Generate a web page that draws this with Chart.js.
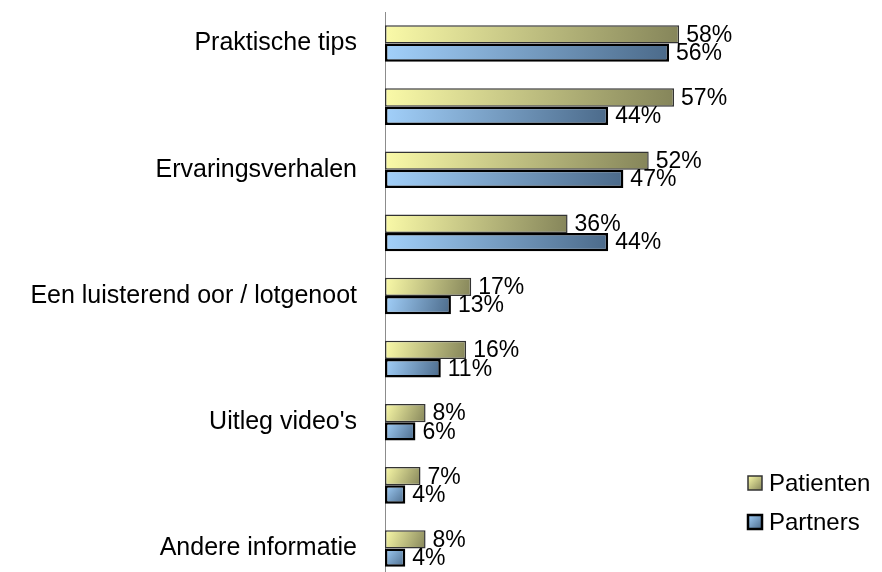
<!DOCTYPE html>
<html lang="nl">
<head>
    <meta charset="UTF-8">
    <title>Informatiebehoefte</title>
    <script src="https://cdn.jsdelivr.net/npm/chart.js"></script>
    <style>
        body {
            margin: 0;
            padding: 0;
            background: #fff;
            overflow: hidden;
        }
        #wrap {
            width: 882px;
            height: 590px;
            position: relative;
        }
    </style>
</head>
<body>
    <div id="wrap">
        <canvas id="barChart"></canvas>
    </div>

    <script>
        const categories = [
            'Praktische tips',
            '',
            'Ervaringsverhalen',
            '',
            'Een luisterend oor / lotgenoot',
            '',
            "Uitleg video's",
            '',
            'Andere informatie'
        ];
        const seriesNames = ['Patienten', 'Partners'];
        const patienten = [58, 57, 52, 36, 17, 16, 8, 7, 8];
        const partners = [56, 44, 47, 44, 13, 11, 6, 4, 4];

        const FONT = '"Liberation Sans", Arial, sans-serif';

        // light / dark ends of each bar gradient
        const shades = [
            ['#fafaa8', '#85855a'],
            ['#a2d0fa', '#4b6a8a']
        ];

        function barGradient(ctx, x0, y0, x1, y1, pair) {
            const g = ctx.createLinearGradient(x0, y0, x1, y1);
            g.addColorStop(0, pair[0]);
            g.addColorStop(1, pair[1]);
            return g;
        }

        // each bar gets its own gradient, from its base (light) to its end (dark)
        function barFill(c) {
            const chart = c.chart;
            const xs = chart.scales.x, ys = chart.scales.y;
            const fallback = shades[c.datasetIndex][0];
            if (!xs || !ys || c.raw == null) return fallback;
            const x0 = xs.getPixelForValue(0);
            const x1 = xs.getPixelForValue(c.raw);
            const yc = ys.getPixelForValue(c.dataIndex) + (c.datasetIndex === 0 ? -9 : 9);
            if (![x0, x1, yc].every(Number.isFinite) || x1 <= x0) return fallback;
            return barGradient(chart.ctx, x0, yc - 9, x1, yc + 9, shades[c.datasetIndex]);
        }

        // percentage labels at the end of each bar
        const valueLabels = {
            id: 'valueLabels',
            afterDatasetsDraw(chart) {
                const ctx = chart.ctx;
                ctx.save();
                ctx.font = '23px ' + FONT;
                ctx.fillStyle = '#000';
                ctx.textAlign = 'left';
                ctx.textBaseline = 'middle';
                chart.data.datasets.forEach((ds, i) => {
                    chart.getDatasetMeta(i).data.forEach((el, j) => {
                        ctx.fillText(ds.data[j] + '%', el.x + 7, el.y + 1);
                    });
                });
                ctx.restore();
            }
        };

        // legend in the lower right
        const sideLegend = {
            id: 'sideLegend',
            afterDraw(chart) {
                const ctx = chart.ctx;
                const rows = [483, 522];
                ctx.save();
                ctx.font = '24px ' + FONT;
                ctx.textBaseline = 'middle';
                seriesNames.forEach((name, i) => {
                    const y = rows[i];
                    ctx.fillStyle = barGradient(ctx, 748, y - 7, 762, y + 7, shades[i]);
                    ctx.fillRect(748, y - 7, 14, 14);
                    ctx.lineWidth = i === 0 ? 1.5 : 2.5;
                    ctx.strokeStyle = i === 0 ? '#333' : '#000';
                    ctx.strokeRect(748, y - 7, 14, 14);
                    ctx.fillStyle = '#000';
                    ctx.fillText(name, 769, y + 1);
                });
                ctx.restore();
            }
        };

        new Chart(document.getElementById('barChart'), {
            type: 'bar',
            data: {
                labels: categories,
                datasets: [
                    {
                        label: seriesNames[0],
                        data: patienten,
                        backgroundColor: barFill,
                        borderColor: '#333',
                        borderWidth: 1.5,
                        borderSkipped: false
                    },
                    {
                        label: seriesNames[1],
                        data: partners,
                        backgroundColor: barFill,
                        borderColor: '#000',
                        borderWidth: 2.5,
                        borderSkipped: false
                    }
                ]
            },
            options: {
                indexAxis: 'y',
                responsive: true,
                maintainAspectRatio: false,
                animation: false,
                categoryPercentage: 0.58,
                barPercentage: 1.0,
                layout: {
                    padding: { left: 0, right: 142, top: 12, bottom: 10 }
                },
                plugins: {
                    legend: { display: false },
                    tooltip: { enabled: false }
                },
                scales: {
                    x: {
                        display: false,
                        min: 0,
                        max: 70
                    },
                    y: {
                        grid: { display: false, drawTicks: false },
                        border: { display: true, color: '#8c8c8c', width: 1 },
                        ticks: {
                            autoSkip: false,
                            padding: 28,
                            color: '#000',
                            font: { family: FONT, size: 25 }
                        },
                        afterFit(scale) {
                            scale.width = 385;
                            scale.paddingTop = 0;
                            scale.paddingBottom = 0;
                        }
                    }
                }
            },
            plugins: [valueLabels, sideLegend]
        });
    </script>
</body>
</html>
